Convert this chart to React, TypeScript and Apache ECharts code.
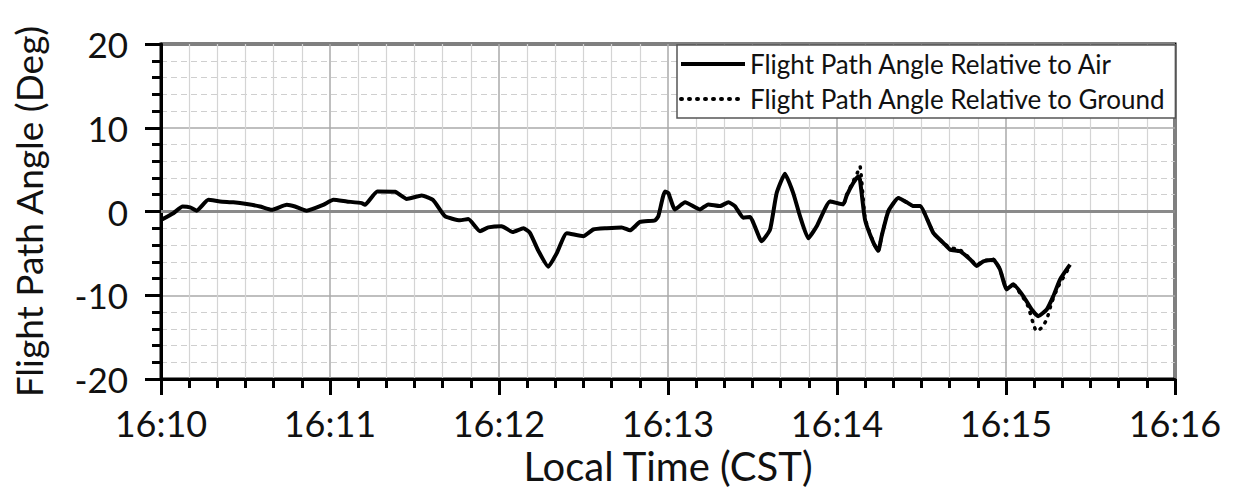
import React, { useEffect, useRef } from "react";
import * as echarts from "echarts";

// time in minutes after 16:10
const airTime = [
  0, 0.073, 0.128, 0.172, 0.211, 0.28, 0.349, 0.428, 0.507, 0.586, 0.655, 0.744, 0.793, 0.862, 0.96,
  1.02, 1.099, 1.188, 1.207, 1.28, 1.385, 1.454, 1.543, 1.611, 1.68, 1.769, 1.818, 1.888, 1.937,
  2.016, 2.081, 2.144, 2.183, 2.233, 2.292, 2.341, 2.401, 2.499, 2.558, 2.637, 2.726, 2.775, 2.834,
  2.923, 2.943, 2.982, 3.002, 3.041, 3.101, 3.189, 3.238, 3.308, 3.357, 3.396, 3.446, 3.485, 3.554,
  3.604, 3.643, 3.692, 3.741, 3.781, 3.83, 3.88, 3.959, 4.037, 4.057, 4.096, 4.126, 4.136, 4.166,
  4.215, 4.244, 4.264, 4.304, 4.363, 4.413, 4.452, 4.491, 4.57, 4.629, 4.669, 4.728, 4.787, 4.826,
  4.866, 4.925, 4.964, 5.004, 5.043, 5.102, 5.152, 5.191, 5.241, 5.28, 5.32, 5.379,
];
const airAngle = [
  -1.0, -0.2, 0.6, 0.5, 0.1, 1.4, 1.2, 1.1, 0.9, 0.6, 0.2, 0.8, 0.6, 0.1, 0.8,
  1.4, 1.2, 1.0, 0.8, 2.4, 2.35, 1.5, 1.9, 1.35, -0.55, -1.05, -0.9, -2.35, -1.9,
  -1.75, -2.45, -2.0, -2.55, -4.7, -6.6, -5.0, -2.6, -2.95, -2.15, -2.0, -1.9, -2.25, -1.25,
  -1.05, -0.55, 2.4, 2.2, 0.25, 1.1, 0.25, 0.85, 0.65, 1.1, 0.65, -0.75, -0.65, -3.55,
  -2.15, 2.2, 4.5, 2.2, -0.55, -3.2, -1.75, 1.2, 0.85, 1.9, 3.4, 4.2, 3.8, -1.0,
  -3.7, -4.7, -2.95, 0.05, 1.6, 1.1, 0.65, 0.65, -2.55, -3.75, -4.55, -4.75, -5.7, -6.5,
  -5.95, -5.75, -6.9, -9.3, -8.7, -10.1, -11.7, -12.5, -11.7, -10.1, -8.1, -6.35,
];

const groundTime = [
  3.959, 4.037, 4.057, 4.096, 4.12, 4.136, 4.166, 4.215, 4.244, 4.264, 4.304, 4.363, 4.413, 4.452,
  4.491, 4.57, 4.629, 4.669, 4.728, 4.787, 4.826, 4.866, 4.925, 4.964, 5.004, 5.043, 5.102, 5.13,
  5.16, 5.18, 5.21, 5.241, 5.27, 5.308, 5.379,
];
const groundAngle = [
  1.2, 0.85, 2.0, 3.6, 4.6, 5.4, -0.8, -3.7, -4.7, -2.95, 0.05, 1.6, 1.1, 0.65,
  0.65, -2.55, -3.75, -4.3, -4.6, -5.6, -6.4, -5.9, -5.7, -6.9, -9.2, -8.8, -10.3, -11.3,
  -13.3, -14.3, -13.9, -12.9, -10.9, -9.0, -6.5,
];

const xTicks = ["16:10", "16:11", "16:12", "16:13", "16:14", "16:15", "16:16"];
const AIR = "Flight Path Angle Relative to Air";
const GROUND = "Flight Path Angle Relative to Ground";
const FONT = "Lato";

export default function App() {
  const ref = useRef<HTMLDivElement>(null);
  useEffect(() => {
    const chart = echarts.init(ref.current!, null, { renderer: "svg" });
    chart.setOption({
      animation: false,
      textStyle: { fontFamily: FONT, color: "#111" },
      grid: { left: 161, top: 44, right: 61, bottom: 114, show: true, borderColor: "#000", borderWidth: 3 },
      legend: {
        data: [AIR, GROUND],
        orient: "vertical",
        left: 677,
        top: 45,
        itemWidth: 64,
        itemHeight: 14,
        itemGap: 9,
        padding: [6, 10, 6, 2],
        backgroundColor: "#fff",
        borderColor: "#555",
        borderWidth: 1.5,
        borderRadius: 0,
        itemStyle: { opacity: 0 },
        lineStyle: { width: 4, color: "#000" },
        textStyle: { fontFamily: FONT, fontSize: 26, color: "#111" },
      },
      xAxis: {
        type: "value",
        min: 0,
        max: 6,
        interval: 1,
        name: "Local Time (CST)",
        nameLocation: "middle",
        nameGap: 67,
        nameTextStyle: { fontSize: 40, fontFamily: FONT, color: "#111" },
        axisLine: { onZero: false, lineStyle: { color: "#000", width: 3 } },
        axisTick: { show: true, length: 16, lineStyle: { color: "#000", width: 3 } },
        minorTick: { show: true, splitNumber: 6, length: 9, lineStyle: { color: "#000", width: 3 } },
        axisLabel: { fontSize: 36, margin: 26, color: "#111", formatter: (v: number) => xTicks[Math.round(v)] },
        splitLine: { show: true, lineStyle: { color: "#aaa", width: 1.5 } },
        minorSplitLine: { show: true, lineStyle: { color: "#d4d4d4", width: 1.2 } },
      },
      yAxis: {
        type: "value",
        min: -20,
        max: 20,
        interval: 10,
        name: "Flight Path Angle (Deg)",
        nameLocation: "middle",
        nameGap: 114,
        nameTextStyle: { fontSize: 37, fontFamily: FONT, color: "#111" },
        axisLine: { show: true, onZero: false, lineStyle: { color: "#000", width: 3 } },
        axisTick: { show: true, length: 16, lineStyle: { color: "#000", width: 3 } },
        minorTick: { show: true, splitNumber: 5, length: 9, lineStyle: { color: "#000", width: 3 } },
        axisLabel: { fontSize: 35, margin: 33, color: "#111" },
        splitLine: { show: true, lineStyle: { color: "#aaa", width: 1.5 } },
        minorSplitLine: { show: true, lineStyle: { color: "#cfcfcf", width: 1.2, type: [6, 4] } },
      },
      series: [
        {
          name: "zero",
          type: "line",
          data: [[0, 0], [6, 0]],
          symbol: "none",
          silent: true,
          lineStyle: { color: "#8a8a8a", width: 3 },
          z: 1,
        },
        {
          name: GROUND,
          type: "line",
          data: groundTime.map((t, i) => [t, groundAngle[i]]),
          symbol: "none",
          smooth: 0.15,
          lineStyle: { color: "#000", width: 3.5, type: [1, 7], cap: "round" },
          itemStyle: { color: "#000" },
          z: 2,
        },
        {
          name: AIR,
          type: "line",
          data: airTime.map((t, i) => [t, airAngle[i]]),
          symbol: "none",
          smooth: 0.15,
          lineStyle: { color: "#000", width: 4, join: "round" },
          itemStyle: { color: "#000" },
          z: 3,
        },
      ],
    });
    return () => chart.dispose();
  }, []);
  return <div ref={ref} style={{ width: 1236, height: 493, position: "absolute", left: 0, top: 0, background: "#fff" }} />;
}
